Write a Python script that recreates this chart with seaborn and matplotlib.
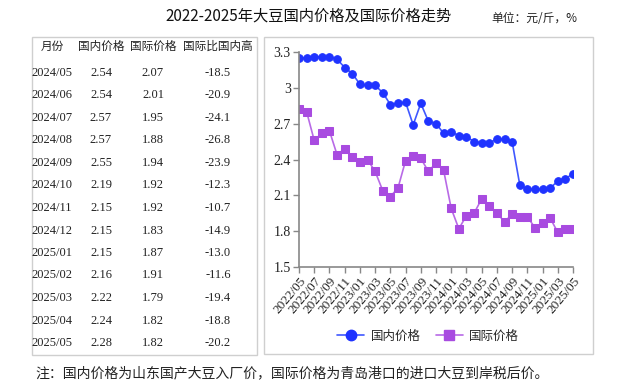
import matplotlib
matplotlib.use("Agg")
import matplotlib.pyplot as plt
import seaborn as sns
import pandas as pd
import numpy as np
from matplotlib.patches import Rectangle
from matplotlib.lines import Line2D

# ---------------- data ----------------
months = ["2022/05","2022/06","2022/07","2022/08","2022/09","2022/10","2022/11","2022/12",
          "2023/01","2023/02","2023/03","2023/04","2023/05","2023/06","2023/07","2023/08",
          "2023/09","2023/10","2023/11","2023/12","2024/01","2024/02","2024/03","2024/04",
          "2024/05","2024/06","2024/07","2024/08","2024/09","2024/10","2024/11","2024/12",
          "2025/01","2025/02","2025/03","2025/04","2025/05"]
domestic = [3.25,3.25,3.26,3.26,3.26,3.24,3.17,3.12,3.03,3.02,3.02,2.96,2.86,2.87,2.88,2.69,
            2.87,2.72,2.70,2.62,2.63,2.60,2.59,2.55,2.54,2.54,2.57,2.57,2.55,2.19,2.15,2.15,
            2.15,2.16,2.22,2.24,2.28]
international = [2.82,2.80,2.56,2.62,2.64,2.44,2.49,2.42,2.38,2.40,2.30,2.14,2.09,2.16,2.39,2.43,
                 2.41,2.30,2.37,2.31,1.99,1.82,1.93,1.95,2.07,2.01,1.95,1.88,1.94,1.92,1.92,1.83,
                 1.87,1.91,1.79,1.82,1.82]

table_months = ["2024/05","2024/06","2024/07","2024/08","2024/09","2024/10","2024/11",
                "2024/12","2025/01","2025/02","2025/03","2025/04","2025/05"]
table_dom = ["2.54","2.54","2.57","2.57","2.55","2.19","2.15","2.15","2.15","2.16","2.22","2.24","2.28"]
table_int = ["2.07","2.01","1.95","1.88","1.94","1.92","1.92","1.83","1.87","1.91","1.79","1.82","1.82"]
table_diff = ["-18.5","-20.9","-24.1","-26.8","-23.9","-12.3","-10.7","-14.9","-13.0","-11.6",
              "-19.4","-18.8","-20.2"]
table_header = ["月份", "国内价格", "国际价格", "国际比国内高"]

title = "2022-2025年大豆国内价格及国际价格走势"
unit = "单位：元/斤，%"
note = "注：国内价格为山东国产大豆入厂价，国际价格为青岛港口的进口大豆到岸税后价。"
series_names = ["国内价格", "国际价格"]
yticks = [1.5, 1.8, 2.1, 2.4, 2.7, 3.0, 3.3]
ytick_labels = ["1.5", "1.8", "2.1", "2.4", "2.7", "3", "3.3"]

# ---------------- styling ----------------
sns.set_theme(style="white")
plt.rcParams['font.family'] = ['Noto Sans CJK SC', 'DejaVu Sans']
CJK = ['Noto Sans CJK SC', 'DejaVu Sans']
SERIF = ['Liberation Serif', 'DejaVu Serif']

W, H = 627, 385
fig = plt.figure(figsize=(W/100, H/100), dpi=100)
fig.patch.set_facecolor("white")

def fx(px):
    return px / W

def fy(py):
    return 1 - py / H

# boxes
box_color = "#cfcfcf"
fig.patches.append(Rectangle((fx(32), fy(355)), fx(257) - fx(32), fy(37) - fy(355),
                             transform=fig.transFigure, fill=False, edgecolor=box_color, lw=1))
fig.patches.append(Rectangle((fx(264), fy(354)), fx(593) - fx(264), fy(37) - fy(354),
                             transform=fig.transFigure, fill=False, edgecolor=box_color, lw=1))

# title and unit
fig.text(fx(309), fy(16), title, ha="center", va="center", fontsize=11, family=CJK, color="#111111")
fig.text(fx(534), fy(18), unit, ha="center", va="center", fontsize=8.5, family=CJK, color="#222222")

# table
col_x = [52, 101, 153, 218]
for x, h in zip(col_x, table_header):
    fig.text(fx(x), fy(46), h, ha="center", va="center", fontsize=8.4, family=CJK, color="#222222")
row0, dy = 73, 22.5
for i in range(len(table_months)):
    yy = fy(row0 + i * dy)
    vals = [table_months[i], table_dom[i], table_int[i], table_diff[i]]
    for x, v in zip(col_x, vals):
        fig.text(fx(x), yy, v, ha="center", va="center", fontsize=9, family=SERIF, color="#222222")

# chart
ax = fig.add_axes([fx(299), fy(267), fx(573) - fx(299), fy(52) - fy(267)])
df = pd.DataFrame({"idx": np.arange(len(months)), "dom": domestic, "intl": international})
blue = "#1f33ff"
purple = "#a84be0"
sns.lineplot(data=df, x="idx", y="dom", ax=ax, color="#4058ff", lw=1.2, marker="o",
             markersize=5.5, markerfacecolor=blue, markeredgecolor=blue)
sns.lineplot(data=df, x="idx", y="intl", ax=ax, color="#b86ae6", lw=1.2, marker="s",
             markersize=5.5, markerfacecolor=purple, markeredgecolor=purple)

ax.set_xlim(0, len(months) - 1)
ax.set_ylim(1.5, 3.3)
ax.set_yticks(yticks)
ax.set_yticklabels(ytick_labels, family=SERIF, fontsize=10, color="#222222")
xt = np.arange(0, len(months), 2)
ax.set_xticks(xt)
ax.set_xticklabels([months[i] for i in xt], rotation=50, ha="right", rotation_mode="anchor",
                   family=SERIF, fontsize=9.5, color="#222222")
ax.set_xlabel("")
ax.set_ylabel("")
for s in ["top", "right"]:
    ax.spines[s].set_visible(False)
for s in ["left", "bottom"]:
    ax.spines[s].set_color("#888888")
    ax.spines[s].set_linewidth(1.2)
ax.tick_params(axis="both", which="major", direction="out", length=4, width=1,
               color="#888888", pad=2, left=True, bottom=True)
ax.set_facecolor("white")
ax.grid(False)

handles = [Line2D([0], [0], color="#4058ff", lw=1.2, marker="o", markersize=7.5,
                  markerfacecolor=blue, markeredgecolor=blue),
           Line2D([0], [0], color="#b86ae6", lw=1.2, marker="s", markersize=7.5,
                  markerfacecolor=purple, markeredgecolor=purple)]
fig.legend(handles, series_names, loc="center", bbox_to_anchor=(fx(428), fy(336)), ncol=2,
           frameon=False, prop={"family": CJK, "size": 9}, handlelength=2.2, columnspacing=1.2,
           handletextpad=0.5)

# note
fig.text(fx(35), fy(373), note, ha="left", va="center", fontsize=10, family=CJK, color="#222222")

fig.savefig("out.png", dpi=100, facecolor="white")
